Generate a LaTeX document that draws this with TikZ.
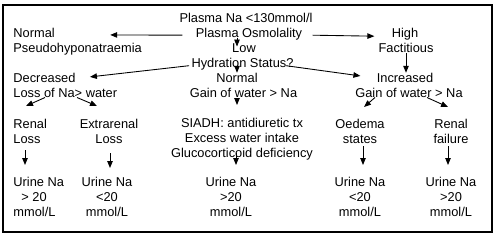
\documentclass[tikz,border=0pt]{standalone}
\usepackage{fontspec}
\setmainfont{Liberation Sans}
\usetikzlibrary{arrows.meta}

\begin{document}
\begin{tikzpicture}[x=0.02cm,y=-0.02cm,line width=0.5pt,
                    txt/.style={inner sep=0pt,anchor=base,align=center,
                                font=\fontsize{7.3pt}{8.4pt}\selectfont},
                    ltxt/.style={txt,anchor=base west,align=left},
                    arr/.style={-{Triangle[length=0.14cm,width=0.11cm]}}]
  \useasboundingbox (0,0) rectangle (500,237);
  \draw[line width=0.6pt] (3,5) rectangle (492,232);
  % centre column
  \node[txt] (na)    at (246,22.5)  {Plasma Na <130mmol/l};
  \node[txt] (osm)   at (249,37.5)  {Plasma Osmolality};
  \node[txt] (low)   at (244,52.5)  {Low};
  \node[txt] (hyd)   at (242.5,67)  {Hydration Status?};
  \node[txt] (nrm)   at (237,82.5)  {Normal};
  \node[txt] (gainN) at (243.5,97.5){Gain of water > Na};
  % left column
  \node[ltxt] (normal) at (13,37.5) {Normal};
  \node[ltxt] (pseudo) at (13,52.5) {Pseudohyponatraemia};
  \node[ltxt] (decr)   at (13,82.5) {Decreased};
  \node[ltxt] (lossNa) at (13,97.5) {Loss of Na> water};
  % right column
  \node[txt] (high)  at (405,37.5) {High};
  \node[txt] (fact)  at (406,52.5) {Factitious};
  \node[txt] (incr)  at (405,82.5) {Increased};
  \node[txt] (gainI) at (409,97.5) {Gain of water > Na};
  % causes (base = last line)
  \node[ltxt] (renal)  at (13,143)  {Renal\\Loss};
  \node[txt]  (extra)  at (109,143) {Extrarenal\\Loss};
  \node[txt]  (siadh)  at (242,157) {SIADH: antidiuretic tx\\Excess water intake\\Glucocorticoid deficiency};
  \node[txt]  (oedema) at (360,143) {Oedema\\states};
  \node[txt]  (rfail)  at (451,143) {Renal\\failure};
  % urine sodium
  \node[ltxt] (u1) at (13,216)  {Urine Na\\\hspace*{0.16cm}> 20\\mmol/L};
  \node[txt]  (u2) at (107,216) {Urine Na\\<20\\mmol/L};
  \node[txt]  (u3) at (231,216) {Urine Na\\>20\\mmol/L};
  \node[txt]  (u4) at (360,216) {Urine Na\\<20\\mmol/L};
  \node[txt]  (u5) at (451,216) {Urine Na\\>20\\mmol/L};

  \draw[arr] ([shift={(-13,1)}]osm.west) -- ([shift={(55,2)}]normal.east);
  \draw[arr] ([shift={(10,1)}]osm.east) -- ([shift={(-17,2)}]high.west);
  \draw[arr] ([shift={(-12,0)}]osm.base) -- ([shift={(-7,-6)}]low.base);
  \draw[arr] ([shift={(-2,2)}]hyd.west) -- ([shift={(14,-1)}]decr.east);
  \draw[arr] (hyd.base -| nrm.north) -- (nrm.north);
  \draw[arr] ([shift={(-8,2)}]hyd.east) -- ([shift={(-16,-2)}]incr.west);
  \draw[arr] (fact.south) -- (fact.south |- incr.north);
  \draw[arr] ([shift={(32,0)}]lossNa.base west) -- ([shift={(13,-37)}]renal.base west);
  \draw[arr] ([shift={(64,0)}]lossNa.base west) -- ([shift={(-12,-37)}]extra.base);
  \draw[arr] ([shift={(-6.5,1.5)}]gainN.base) -- ([shift={(-5,-52)}]siadh.base);
  \draw[arr] ([shift={(-34,0)}]gainI.base) -- ([shift={(4,-36)}]oedema.base);
  \draw[arr] ([shift={(18,0)}]gainI.base) -- ([shift={(-3,-36)}]rfail.base);
  \draw[arr] ([shift={(12,7)}]renal.base west) -- ([shift={(12,-51)}]u1.base west);
  \draw[arr] ([shift={(1,10)}]extra.base) -- ([shift={(3,-48)}]u2.base);
  \draw[arr] ([shift={(-6,-4)}]siadh.base) -- ([shift={(5,-51)}]u3.base);
  \draw[arr] ([shift={(3,3)}]oedema.base) -- ([shift={(3,-51)}]u4.base);
  \draw[arr] ([shift={(-3,3)}]rfail.base) -- ([shift={(-3,-51)}]u5.base);
\end{tikzpicture}
\end{document}
